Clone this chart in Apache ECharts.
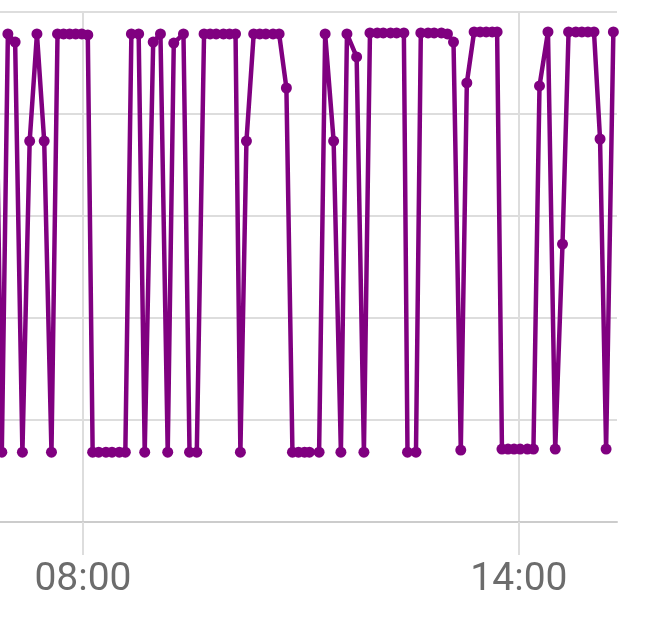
<!DOCTYPE html>
<html>
<head>
<meta charset="utf-8">
<script src="https://cdn.jsdelivr.net/npm/echarts@6/dist/echarts.min.js"></script>
<style>
html,body{margin:0;padding:0;background:#ffffff;}
#chart{width:651px;height:620px;}
</style>
</head>
<body>
<div id="chart"></div>
<script>
// Reading times (HH:MM)
const times = [
  '06:48','06:53','06:58','07:04','07:10','07:16','07:22','07:28','07:34','07:39',
  '07:44','07:49','07:54','07:59','08:04','08:08','08:13','08:19','08:24','08:30',
  '08:35','08:40','08:46','08:51','08:58','09:04','09:10','09:15','09:23','09:28',
  '09:34','09:40','09:45','09:50','09:56','10:01','10:06','10:10','10:15','10:21',
  '10:26','10:31','10:37','10:42','10:48','10:53','10:58','11:03','11:07','11:15',
  '11:20','11:27','11:33','11:38','11:46','11:52','11:57','12:03','12:08','12:14',
  '12:19','12:25','12:28','12:35','12:39','12:45','12:50','12:56','13:01','13:06',
  '13:12','13:17','13:23','13:28','13:33','13:38','13:42','13:46','13:51','13:56',
  '14:01','14:07','14:12','14:17','14:24','14:30','14:36','14:41','14:47','14:52',
  '14:57','15:02','15:07','15:12','15:18'
];
// Series values
const values = [
  94.0,13.7,95.7,94.1,13.7,74.7,95.7,74.7,13.7,95.7,
  95.7,95.7,95.7,95.7,95.5,13.7,13.7,13.7,13.7,13.7,
  13.7,95.7,95.7,13.7,94.1,95.7,13.7,93.9,95.7,13.7,
  13.7,95.7,95.7,95.7,95.7,95.7,95.7,13.7,74.7,95.7,
  95.7,95.7,95.7,95.7,85.1,13.7,13.7,13.7,13.7,13.7,
  95.7,74.7,13.7,95.7,91.2,13.7,95.9,95.9,95.9,95.9,
  95.9,95.9,13.7,13.7,95.9,95.9,95.9,95.9,95.7,94.1,
  14.1,86.1,96.1,96.1,96.1,96.1,96.1,14.3,14.3,14.3,
  14.3,14.3,14.3,85.5,96.1,14.3,54.5,96.1,96.1,96.1,
  96.1,96.1,75.1,14.3,96.1
];
// Tick labels on the time axis
const tickLabels = ['08:00','14:00'];

function toMin(s){ const p = s.split(':'); return (+p[0])*60 + (+p[1]); }
function fmt(v){
  const m = Math.round(v);
  const h = Math.floor(m/60), mm = m%60;
  return String(h).padStart(2,'0') + ':' + String(mm).padStart(2,'0');
}

const seriesData = times.map((t,i)=>[toMin(t), values[i]]);
const tickVals = tickLabels.map(toMin);

const chart = echarts.init(document.getElementById('chart'), null, {renderer:'canvas'});
chart.setOption({
  animation:false,
  backgroundColor:'#ffffff',
  grid:{left:0,right:34,top:12,bottom:98,containLabel:false,outerBoundsMode:'none'},
  xAxis:{
    type:'value',
    min:411.5,
    max:921,
    axisLine:{show:true,lineStyle:{color:'#cccccc',width:2}},
    axisTick:{show:true,length:33,customValues:tickVals,lineStyle:{color:'#dddddd',width:2}},
    axisLabel:{show:true,customValues:tickVals,formatter:fmt,margin:39,
      fontFamily:'Roboto',fontSize:39,color:'#6c6c6c'},
    splitLine:{show:true,lineStyle:{color:'#dddddd',width:2}}
  },
  yAxis:{
    type:'value',
    min:0,max:100,interval:20,
    axisLine:{show:false},
    axisTick:{show:false},
    axisLabel:{show:false},
    splitLine:{show:true,lineStyle:{color:'#dddddd',width:2}}
  },
  series:[{
    type:'line',
    data:seriesData,
    symbol:'circle',
    symbolSize:11,
    showAllSymbol:true,
    clip:true,
    itemStyle:{color:'#800080'},
    lineStyle:{color:'#800080',width:4.5,join:'round',cap:'round'}
  }]
});
</script>
</body>
</html>
